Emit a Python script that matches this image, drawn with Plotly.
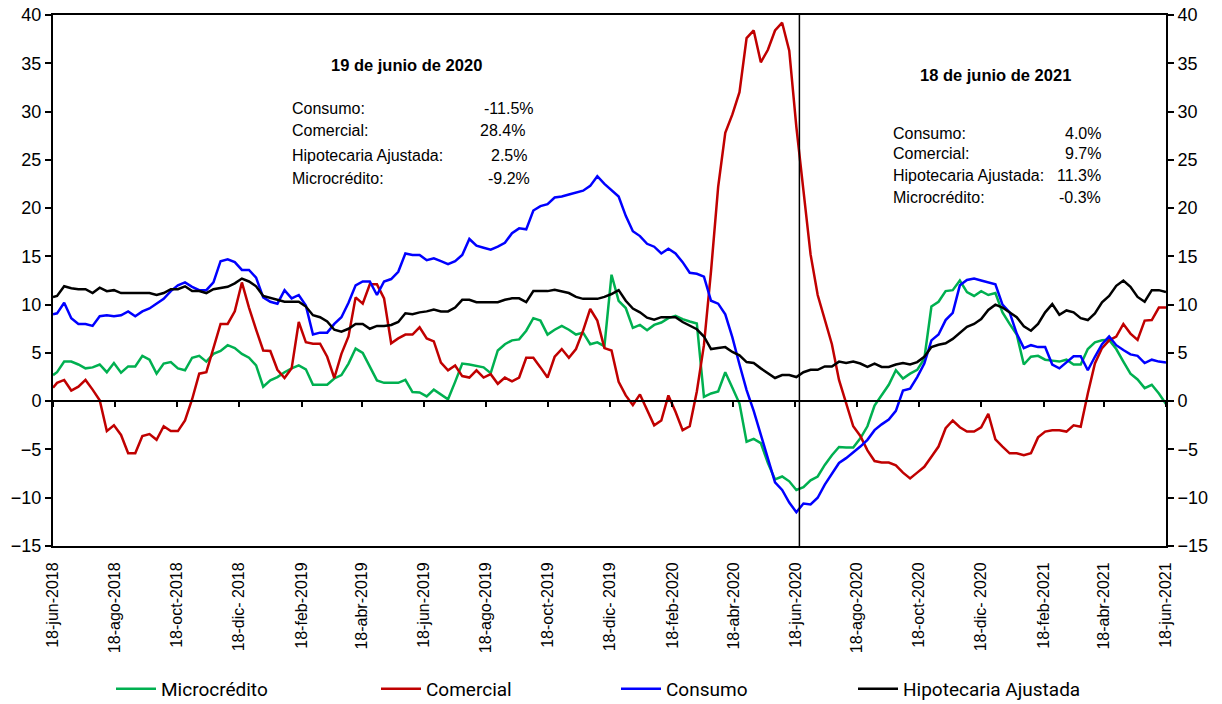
import pandas as pd
import plotly.graph_objects as go

# weekly series (first point 18-jun-2018, then every Friday up to 18-jun-2021)
fechas = ["2018-06-18"] + [d.strftime("%Y-%m-%d") for d in pd.date_range("2018-06-22", "2021-06-18", freq="7D")]

microcredito = [
    2.7,
    3.0, 4.1, 4.1, 3.8, 3.4, 3.5, 3.8, 3.0, 3.95, 2.95,
    3.6, 3.6, 4.7, 4.3, 2.85, 3.9, 4.05, 3.4, 3.2, 4.5,
    4.7, 4.1, 4.9, 5.2, 5.8, 5.5, 4.9, 4.5, 3.7, 1.5,
    2.15, 2.5, 3.0, 3.4, 3.7, 3.3, 1.7, 1.7, 1.7, 2.35,
    2.7, 3.9, 5.45, 5.0, 3.55, 2.15, 1.9, 1.9, 1.9, 2.2,
    0.95, 0.9, 0.5, 1.2, 0.7, 0.2, 2.0, 3.9, 3.8, 3.65,
    3.5, 2.9, 5.25, 5.9, 6.3, 6.4, 7.3, 8.6, 8.35, 6.9,
    7.4, 7.8, 7.4, 6.9, 7.1, 5.9, 6.1, 5.7, 13.1, 10.4,
    9.65, 7.6, 7.9, 7.35, 7.9, 8.15, 8.6, 8.85, 8.5, 8.25,
    8.05, 0.45, 0.8, 1.0, 3.0, 1.4, -0.25, -4.2, -3.9, -4.35,
    -6.4, -8.1, -7.8, -8.3, -9.2, -8.9, -8.2, -7.8, -6.6, -5.6,
    -4.75, -4.8, -4.8, -3.85, -2.6, -0.45, 0.6, 1.7, 3.2, 2.35,
    2.85, 3.25, 4.4, 9.8, 10.3, 11.4, 11.5, 12.5, 11.3, 10.9,
    11.4, 11.0, 11.2, 9.2, 8.0, 6.9, 3.8, 4.6, 4.7, 4.3,
    4.2, 4.1, 4.3, 3.8, 3.8, 5.4, 6.1, 6.3, 6.35, 5.4,
    4.1, 2.85, 2.25, 1.35, 1.7, 0.8, -0.3,
]

comercial = [
    1.4,
    1.9, 2.2, 1.1, 1.5, 2.2, 1.2, 0.1, -3.1, -2.5, -3.5,
    -5.4, -5.4, -3.6, -3.4, -4.0, -2.6, -3.1, -3.1, -2.0, 0.2,
    2.85, 3.0, 5.4, 8.0, 8.0, 9.3, 12.3, 9.7, 7.4, 5.25,
    5.2, 3.25, 2.4, 3.4, 8.2, 6.1, 5.95, 5.95, 4.6, 2.4,
    4.9, 6.7, 10.75, 10.1, 12.1, 12.1, 10.65, 6.0, 6.5, 6.9,
    6.9, 7.65, 6.5, 6.2, 4.0, 3.2, 3.7, 2.6, 2.45, 3.2,
    2.45, 2.8, 1.8, 2.45, 2.05, 2.45, 4.5, 4.5, 3.5, 2.45,
    4.6, 5.4, 4.5, 5.4, 7.3, 9.55, 8.35, 5.5, 5.25, 2.0,
    0.6, -0.4, 0.7, -0.9, -2.5, -2.0, 0.6, -1.1, -3.0, -2.6,
    1.0, 5.8, 13.5, 22.2, 27.8, 29.7, 32.0, 37.6, 38.4, 35.1,
    36.4, 38.4, 39.2, 36.3, 28.4, 21.8, 15.2, 11.0, 8.35, 5.9,
    2.2, -0.2, -2.6, -3.6, -5.1, -6.2, -6.35, -6.35, -6.65, -7.4,
    -8.0, -7.4, -6.8, -5.75, -4.7, -2.8, -2.0, -2.7, -3.15, -3.15,
    -2.7, -1.3, -3.95, -4.7, -5.4, -5.4, -5.6, -5.4, -3.75, -3.15,
    -3.0, -3.0, -3.15, -2.5, -2.65, 0.8, 3.9, 5.5, 6.3, 6.7,
    8.0, 7.0, 6.35, 8.35, 8.4, 9.7, 9.7,
]

consumo = [
    9.0,
    9.1, 10.2, 8.6, 8.0, 8.0, 7.8, 8.8, 8.9, 8.8, 8.9,
    9.3, 8.8, 9.3, 9.6, 10.1, 10.6, 11.4, 12.0, 12.3, 11.85,
    11.5, 11.5, 12.3, 14.5, 14.7, 14.4, 13.6, 13.6, 12.8, 10.75,
    10.3, 10.1, 11.5, 10.65, 11.0, 9.9, 6.9, 7.1, 7.1, 8.0,
    8.7, 10.2, 12.0, 12.4, 12.4, 11.0, 12.4, 12.65, 13.4, 15.3,
    15.15, 15.15, 14.6, 14.8, 14.5, 14.2, 14.5, 15.15, 16.8, 16.1,
    15.9, 15.7, 16.0, 16.4, 17.4, 17.9, 17.8, 19.75, 20.2, 20.4,
    21.1, 21.2, 21.4, 21.6, 21.8, 22.3, 23.3, 22.5, 21.9, 21.2,
    19.2, 17.6, 17.1, 16.3, 16.0, 15.3, 15.8, 15.3, 14.4, 13.3,
    13.2, 12.9, 10.4, 10.1, 9.0, 6.6, 3.8, 1.15, -1.0, -3.5,
    -6.0, -8.4, -9.2, -10.5, -11.5, -10.6, -10.7, -10.0, -8.65, -7.5,
    -6.4, -5.9, -5.3, -4.7, -4.0, -3.0, -2.4, -1.9, -1.0, 1.1,
    1.3, 2.5, 3.9, 6.3, 6.9, 8.4, 9.15, 12.0, 12.55, 12.7,
    12.5, 12.3, 12.1, 10.0, 9.2, 7.0, 5.5, 5.8, 5.6, 5.6,
    3.8, 3.4, 4.05, 4.65, 4.65, 3.2, 4.6, 5.9, 6.7, 5.8,
    5.3, 4.85, 4.7, 3.95, 4.3, 4.1, 4.0,
]

hipotecaria = [
    10.8,
    10.9, 11.9, 11.7, 11.6, 11.6, 11.2, 11.75, 11.4, 11.5, 11.2,
    11.2, 11.2, 11.2, 11.2, 11.0, 11.2, 11.6, 11.6, 11.9, 11.4,
    11.4, 11.2, 11.6, 11.7, 11.85, 12.2, 12.7, 12.4, 11.9, 10.9,
    10.7, 10.5, 10.3, 10.3, 10.3, 9.8, 8.9, 8.7, 8.25, 7.4,
    7.2, 7.5, 8.0, 8.0, 7.5, 7.8, 7.8, 7.9, 8.2, 9.1,
    9.0, 9.2, 9.3, 9.5, 9.3, 9.3, 9.7, 10.5, 10.5, 10.25,
    10.25, 10.25, 10.25, 10.5, 10.65, 10.65, 10.25, 11.4, 11.4, 11.4,
    11.55, 11.4, 11.2, 10.8, 10.6, 10.6, 10.6, 10.8, 11.1, 11.5,
    10.4, 9.6, 9.2, 8.65, 8.45, 8.7, 8.7, 8.7, 8.2, 7.8,
    7.45, 6.7, 5.4, 5.5, 5.6, 5.1, 4.75, 4.05, 3.95, 3.4,
    2.9, 2.4, 2.7, 2.7, 2.5, 3.0, 3.25, 3.25, 3.6, 3.6,
    4.1, 3.95, 4.1, 3.9, 3.55, 3.9, 3.55, 3.55, 3.8, 3.95,
    3.8, 4.05, 4.6, 5.6, 5.85, 6.0, 6.45, 7.05, 7.7, 8.0,
    8.5, 9.45, 10.0, 9.7, 9.2, 8.7, 7.75, 7.3, 8.0, 9.2,
    10.05, 8.95, 9.4, 9.2, 8.6, 8.4, 9.1, 10.25, 10.9, 11.95,
    12.5, 11.85, 10.8, 10.3, 11.5, 11.5, 11.3,
]

tick_fechas = ["2018-06-18", "2018-08-18", "2018-10-18", "2018-12-18", "2019-02-18", "2019-04-18",
               "2019-06-18", "2019-08-18", "2019-10-18", "2019-12-18", "2020-02-18", "2020-04-18",
               "2020-06-18", "2020-08-18", "2020-10-18", "2020-12-18", "2021-02-18", "2021-04-18",
               "2021-06-18"]
tick_textos = ["18-jun-2018", "18-ago-2018", "18-oct-2018", "18-dic- 2018", "18-feb-2019", "18-abr-2019",
               "18-jun-2019", "18-ago-2019", "18-oct-2019", "18-dic- 2019", "18-feb-2020", "18-abr-2020",
               "18-jun-2020", "18-ago-2020", "18-oct-2020", "18-dic- 2020", "18-feb-2021", "18-abr-2021",
               "18-jun-2021"]

fecha_corte = "2020-06-22"

bloque1 = ["Consumo:", "Comercial:", "Hipotecaria Ajustada:", "Microcrédito:"]
valores1 = ["-11.5%", "28.4%", "2.5%", "-9.2%"]
valores2 = ["4.0%", "9.7%", "11.3%", "-0.3%"]

# page geometry (px)
W, H = 1222, 704
L, R, T, B = 53, 1166, 15, 546


def px(x):
    return (x - L) / (R - L)


def py(y):
    return (B - y) / (B - T)


series = [
    ("Microcrédito", microcredito, "#00B050", "legend", 111),
    ("Comercial", comercial, "#C00000", "legend2", 376),
    ("Consumo", consumo, "#0000FF", "legend3", 616),
    ("Hipotecaria Ajustada", hipotecaria, "#000000", "legend4", 853),
]

fig = go.Figure()
for nombre, vals, color, leg, lx in series:
    fig.add_trace(go.Scatter(x=fechas, y=vals, mode="lines", name=nombre,
                             line=dict(color=color, width=2.5), legend=leg))

# helper traces so the zero-line axis and the right axis get drawn
fig.add_trace(go.Scatter(x=[fechas[0]], y=[0], xaxis="x2", yaxis="y", mode="markers",
                         marker=dict(opacity=0), showlegend=False, hoverinfo="skip"))
fig.add_trace(go.Scatter(x=[fechas[0]], y=[0], xaxis="x", yaxis="y2", mode="markers",
                         marker=dict(opacity=0), showlegend=False, hoverinfo="skip"))

fuente = "Arial, Liberation Sans, sans-serif"
xrange = ["2018-06-18", "2021-06-18"]

legends = {}
for i, (nombre, vals, color, leg, lx) in enumerate(series):
    legends[leg] = dict(orientation="h", x=px(lx), y=py(689), xanchor="left", yanchor="middle",
                        font=dict(family="Roboto, sans-serif", size=19, color="black"),
                        itemwidth=40, bgcolor="rgba(0,0,0,0)")

fig.update_layout(
    width=W, height=H,
    margin=dict(l=L, r=W - R, t=T, b=H - B, autoexpand=False),
    paper_bgcolor="white", plot_bgcolor="white",
    font=dict(family=fuente, color="black"),
    showlegend=True,
    xaxis=dict(type="date", range=xrange, tickvals=tick_fechas, ticktext=tick_textos,
               tickangle=-90, tickfont=dict(size=16, family=fuente), automargin=False,
               ticks="outside", ticklen=8, tickcolor="rgba(0,0,0,0)",
               showline=True, linecolor="black", linewidth=2, mirror=True,
               showgrid=False, zeroline=False),
    xaxis2=dict(type="date", range=xrange, tickvals=tick_fechas, overlaying="x",
                anchor="free", position=15 / 55, showticklabels=False, automargin=False,
                ticks="outside", ticklen=5, tickwidth=1.5, tickcolor="black",
                showline=True, linecolor="black", linewidth=2, showgrid=False, zeroline=False),
    yaxis=dict(range=[-15, 40], dtick=5, tick0=0, ticks="outside", ticklen=6, automargin=False,
               tickcolor="black", tickwidth=1.5, tickfont=dict(size=18, family=fuente),
               showline=True, linecolor="black", linewidth=2, showgrid=False, zeroline=False),
    yaxis2=dict(range=[-15, 40], dtick=5, tick0=0, overlaying="y", side="right", anchor="x",
                ticks="outside", ticklen=6, tickcolor="black", tickwidth=1.5, automargin=False,
                tickfont=dict(size=18, family=fuente),
                showline=True, linecolor="black", linewidth=2, showgrid=False, zeroline=False),
    **legends,
)

fig.add_shape(type="line", xref="x", yref="y", x0=fecha_corte, x1=fecha_corte, y0=-15, y1=40,
              line=dict(color="black", width=1.5))

# text boxes
fig.add_annotation(text="<b>19 de junio de 2020</b>", x=px(406), y=py(65), xref="paper", yref="paper",
                   showarrow=False, xanchor="center", yanchor="middle", font=dict(size=16.5))
fig.add_annotation(text="<b>18 de junio de 2021</b>", x=px(995), y=py(75), xref="paper", yref="paper",
                   showarrow=False, xanchor="center", yanchor="middle", font=dict(size=16.5))

ys1 = [108, 131, 155, 178]
xs1 = [536, 527, 529, 532]
ys2 = [133, 154, 176, 197]
xs2 = [1103, 1103, 1103, 1103]
for k in range(4):
    fig.add_annotation(text=bloque1[k], x=px(290), y=py(ys1[k]), xref="paper", yref="paper",
                       showarrow=False, xanchor="left", yanchor="middle", font=dict(size=16))
    fig.add_annotation(text=valores1[k], x=px(xs1[k]), y=py(ys1[k]), xref="paper", yref="paper",
                       showarrow=False, xanchor="right", yanchor="middle", font=dict(size=16))
    fig.add_annotation(text=bloque1[k], x=px(891), y=py(ys2[k]), xref="paper", yref="paper",
                       showarrow=False, xanchor="left", yanchor="middle", font=dict(size=16))
    fig.add_annotation(text=valores2[k], x=px(xs2[k]), y=py(ys2[k]), xref="paper", yref="paper",
                       showarrow=False, xanchor="right", yanchor="middle", font=dict(size=16))

fig.write_html("out.html", config={"displayModeBar": False},
               post_script="document.body.style.margin='0';")
